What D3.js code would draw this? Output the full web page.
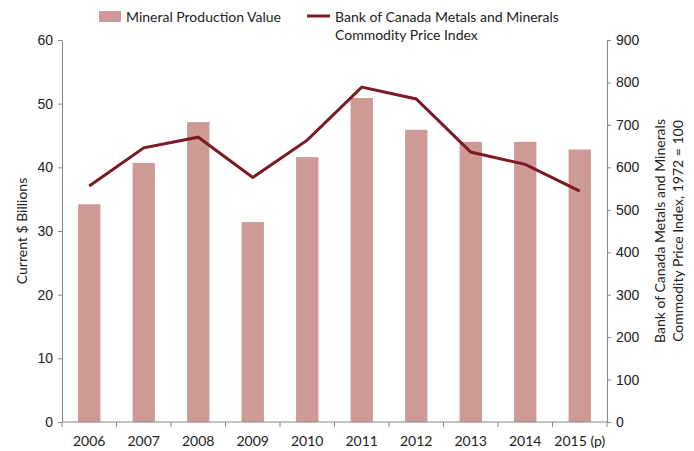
<!DOCTYPE html>
<html>
<head>
<meta charset="utf-8">
<script src="https://cdn.jsdelivr.net/npm/d3@7"></script>
<style>
  body { margin: 0; background: #fff; }
  svg { font-family: Lato, "Open Sans", sans-serif; }
  .axis path, .axis line { stroke: #868686; }
  .axis text { font-size: 14px; fill: #222; }
</style>
</head>
<body>
<div id="chart"></div>
<script>
const years = ['2006', '2007', '2008', '2009', '2010', '2011', '2012', '2013', '2014', '2015 (p)'];
const productionValue = [34.2, 40.7, 47.1, 31.4, 41.6, 50.9, 45.9, 44.0, 44.0, 42.8];
const priceIndex = [556, 646, 671, 576, 664, 789, 761, 636, 607, 544];
const leftTicks = [0, 10, 20, 30, 40, 50, 60];
const rightTicks = [0, 100, 200, 300, 400, 500, 600, 700, 800, 900];

const width = 694, height = 451;
const margin = { top: 40, right: 87, bottom: 29, left: 62 };

const svg = d3.select('#chart')
    .append('svg')
    .attr('width', width)
    .attr('height', height);

const x = d3.scaleBand()
    .domain(years)
    .range([margin.left, width - margin.right])
    .paddingInner(0.59)
    .paddingOuter(0.295);

const yLeft = d3.scaleLinear()
    .domain([0, 60])
    .range([height - margin.bottom, margin.top]);

const yRight = d3.scaleLinear()
    .domain([0, 900])
    .range([height - margin.bottom, margin.top]);

// bars
svg.append('g')
    .selectAll('rect')
    .data(productionValue)
    .enter()
    .append('rect')
    .attr('x', (d, i) => x(years[i]))
    .attr('width', x.bandwidth())
    .attr('y', d => yLeft(d))
    .attr('height', d => yLeft(0) - yLeft(d))
    .attr('fill', '#cd9a96');

// line
const line = d3.line()
    .x((d, i) => x(years[i]) + x.bandwidth() / 2)
    .y(d => yRight(d));

svg.append('path')
    .datum(priceIndex)
    .attr('d', line)
    .attr('fill', 'none')
    .attr('stroke', '#7b1a24')
    .attr('stroke-width', 3);

// axes
const gl = svg.append('g')
    .attr('class', 'axis')
    .attr('transform', 'translate(' + margin.left + ',0)')
    .call(d3.axisLeft(yLeft).tickValues(leftTicks).tickSize(4).tickSizeOuter(0).tickPadding(5));

const gr = svg.append('g')
    .attr('class', 'axis')
    .attr('transform', 'translate(' + (width - margin.right) + ',0)')
    .call(d3.axisRight(yRight).tickValues(rightTicks).tickSize(4).tickSizeOuter(0).tickPadding(5));

// x axis: ticks at category boundaries
const step = x.step();
const gx = svg.append('g')
    .attr('class', 'axis')
    .attr('transform', 'translate(0,' + (height - margin.bottom) + ')');
gx.append('line')
    .attr('x1', margin.left)
    .attr('x2', width - margin.right)
    .attr('stroke', '#868686');
gx.selectAll('.tick')
    .data(d3.range(years.length + 1))
    .enter()
    .append('line')
    .attr('x1', i => margin.left + i * step)
    .attr('x2', i => margin.left + i * step)
    .attr('y1', 0)
    .attr('y2', 5)
    .attr('stroke', '#868686');
gx.selectAll('text')
    .data(years)
    .enter()
    .append('text')
    .attr('x', d => x(d) + x.bandwidth() / 2)
    .attr('y', 24)
    .attr('text-anchor', 'middle')
    .text(d => d);

// axis titles
svg.append('text')
    .attr('transform', 'translate(27,' + ((margin.top + height - margin.bottom) / 2) + ') rotate(-90)')
    .attr('text-anchor', 'middle')
    .attr('font-size', 14)
    .attr('fill', '#222')
    .text('Current $ Billions');

const rt = svg.append('text')
    .attr('transform', 'translate(665,' + ((margin.top + height - margin.bottom) / 2) + ') rotate(-90)')
    .attr('text-anchor', 'middle')
    .attr('font-size', 14)
    .attr('fill', '#222');
rt.append('tspan').attr('x', 0).attr('dy', 0).text('Bank of Canada Metals and Minerals');
rt.append('tspan').attr('x', 0).attr('dy', 18).text('Commodity Price Index, 1972 = 100');

// legend
const legend = svg.append('g').attr('font-size', 14).attr('fill', '#222');
legend.append('rect')
    .attr('x', 99).attr('y', 11).attr('width', 22).attr('height', 11)
    .attr('fill', '#cd9a96');
legend.append('text').attr('x', 126).attr('y', 22).text('Mineral Production Value');
legend.append('line')
    .attr('x1', 307).attr('x2', 330).attr('y1', 16).attr('y2', 16)
    .attr('stroke', '#7b1a24').attr('stroke-width', 3);
legend.append('text').attr('x', 335).attr('y', 22).text('Bank of Canada Metals and Minerals');
legend.append('text').attr('x', 335).attr('y', 40).text('Commodity Price Index');
</script>
</body>
</html>
